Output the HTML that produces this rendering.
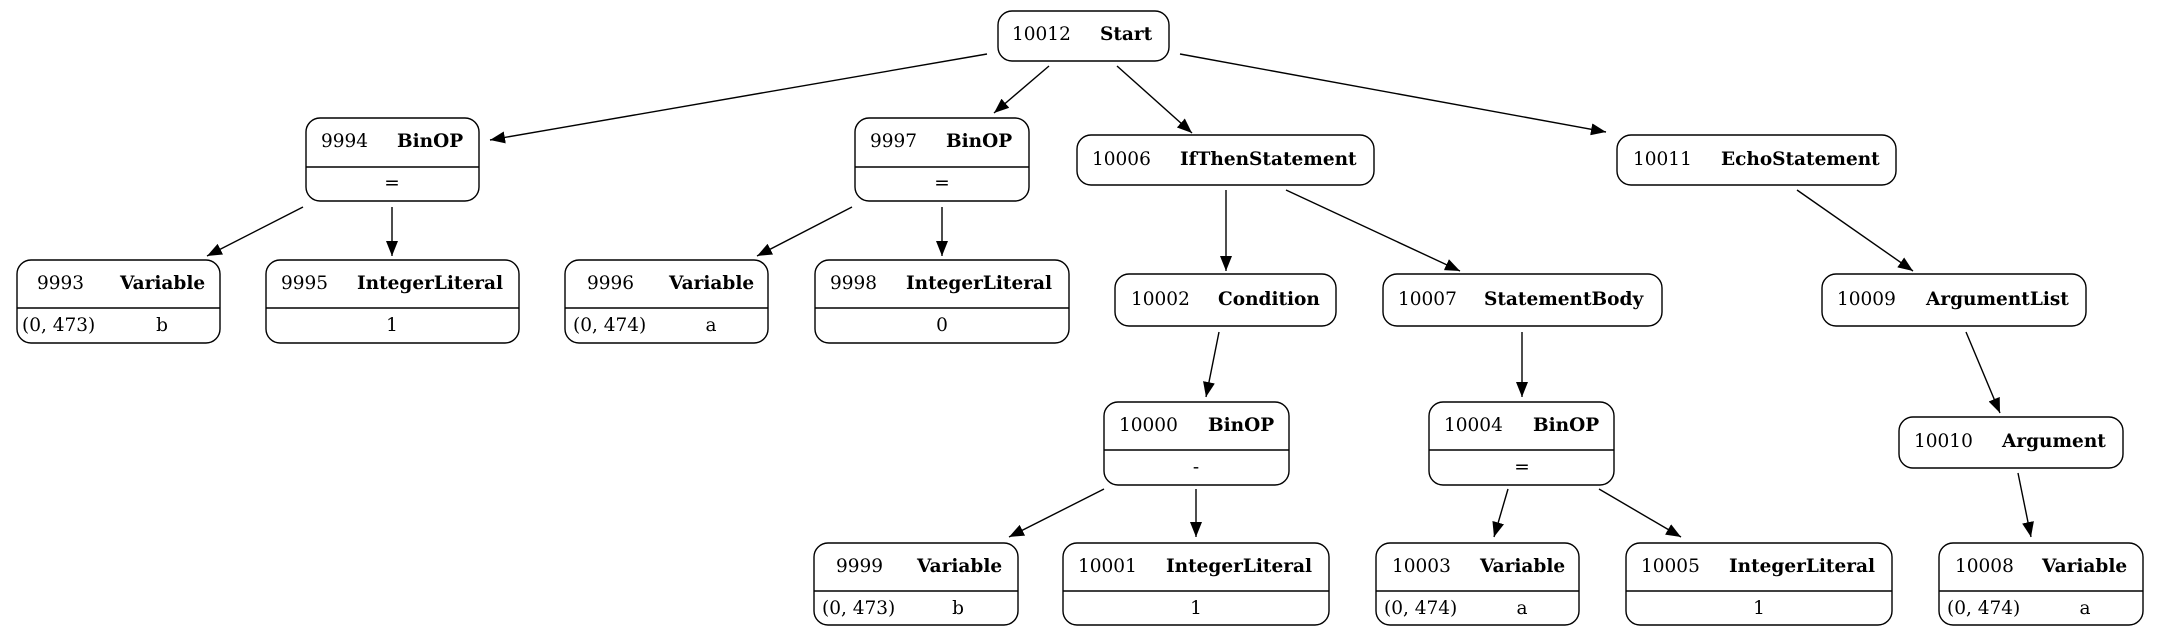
<!DOCTYPE html>
<html><head><meta charset="utf-8"><style>
html,body{margin:0;padding:0;background:#fff;}
svg{display:block;}
text{font-family:"DejaVu Serif","Liberation Serif",serif;font-size:18.5px;fill:#000;}
.b{font-weight:bold;}
rect{fill:#fff;stroke:#000;stroke-width:1.4;}
line{stroke:#000;stroke-width:1.4;}
.e{marker-end:url(#a);}
</style></head><body>
<svg width="2159" height="636" viewBox="0 0 2159 636" xmlns="http://www.w3.org/2000/svg">
<defs><marker id="a" markerUnits="userSpaceOnUse" markerWidth="16" markerHeight="12" refX="15" refY="6" orient="auto"><path d="M0,0 L15,6 L0,12 z" fill="#000"/></marker></defs>

<line class="e" x1="987" y1="54" x2="490" y2="140"/>
<line class="e" x1="1049" y1="66" x2="994" y2="113"/>
<line class="e" x1="1117" y1="66" x2="1192" y2="133"/>
<line class="e" x1="1180" y1="54" x2="1606" y2="132"/>
<line class="e" x1="303" y1="207" x2="207" y2="256"/>
<line class="e" x1="392" y1="207" x2="392" y2="256"/>
<line class="e" x1="852" y1="207" x2="757" y2="256"/>
<line class="e" x1="942" y1="207" x2="942" y2="256"/>
<line class="e" x1="1226" y1="190" x2="1226" y2="271"/>
<line class="e" x1="1286" y1="190" x2="1460" y2="271"/>
<line class="e" x1="1797" y1="190" x2="1913" y2="271"/>
<line class="e" x1="1219" y1="332" x2="1206" y2="397"/>
<line class="e" x1="1522" y1="332" x2="1522" y2="397"/>
<line class="e" x1="1966" y1="332" x2="2000" y2="413"/>
<line class="e" x1="1104" y1="489" x2="1009" y2="537"/>
<line class="e" x1="1196" y1="489" x2="1196" y2="537"/>
<line class="e" x1="1508" y1="489" x2="1494" y2="537"/>
<line class="e" x1="1599" y1="489" x2="1681" y2="537"/>
<line class="e" x1="2018" y1="473" x2="2031" y2="537"/>

<rect x="998" y="11" width="171" height="50" rx="14"/>
<text x="1012" y="40">10012</text><text class="b" x="1100" y="40">Start</text>

<rect x="1077" y="135" width="297" height="50" rx="14"/>
<text x="1092" y="165">10006</text><text class="b" x="1180" y="165">IfThenStatement</text>

<rect x="1617" y="135" width="279" height="50" rx="14"/>
<text x="1633" y="165">10011</text><text class="b" x="1721" y="165">EchoStatement</text>

<rect x="1115" y="274" width="221" height="52" rx="14"/>
<text x="1131" y="305">10002</text><text class="b" x="1218" y="305">Condition</text>

<rect x="1383" y="274" width="279" height="52" rx="14"/>
<text x="1398" y="305">10007</text><text class="b" x="1484" y="305">StatementBody</text>

<rect x="1822" y="274" width="264" height="52" rx="14"/>
<text x="1837" y="305">10009</text><text class="b" x="1926" y="305">ArgumentList</text>

<rect x="1899" y="417" width="224" height="51" rx="14"/>
<text x="1914" y="447">10010</text><text class="b" x="2002" y="447">Argument</text>

<rect x="306" y="118" width="173" height="83" rx="14"/><line x1="306" y1="167" x2="479" y2="167"/>
<text x="321" y="147">9994</text><text class="b" x="397" y="147">BinOP</text><text x="392" y="189" text-anchor="middle">=</text>

<rect x="855" y="118" width="174" height="83" rx="14"/><line x1="855" y1="167" x2="1029" y2="167"/>
<text x="870" y="147">9997</text><text class="b" x="946" y="147">BinOP</text><text x="942" y="189" text-anchor="middle">=</text>

<rect x="17" y="260" width="203" height="83" rx="14"/><line x1="17" y1="308" x2="220" y2="308"/>
<text x="37" y="289">9993</text><text class="b" x="120" y="289">Variable</text>
<text x="22" y="331">(0, 473)</text><text x="162" y="331" text-anchor="middle">b</text>

<rect x="266" y="260" width="253" height="83" rx="14"/><line x1="266" y1="308" x2="519" y2="308"/>
<text x="281" y="289">9995</text><text class="b" x="357" y="289">IntegerLiteral</text><text x="392" y="331" text-anchor="middle">1</text>

<rect x="565" y="260" width="203" height="83" rx="14"/><line x1="565" y1="308" x2="768" y2="308"/>
<text x="587" y="289">9996</text><text class="b" x="669" y="289">Variable</text>
<text x="573" y="331">(0, 474)</text><text x="711" y="331" text-anchor="middle">a</text>

<rect x="815" y="260" width="254" height="83" rx="14"/><line x1="815" y1="308" x2="1069" y2="308"/>
<text x="830" y="289">9998</text><text class="b" x="906" y="289">IntegerLiteral</text><text x="942" y="331" text-anchor="middle">0</text>

<rect x="1104" y="402" width="185" height="83" rx="14"/><line x1="1104" y1="450" x2="1289" y2="450"/>
<text x="1119" y="431">10000</text><text class="b" x="1208" y="431">BinOP</text><text x="1196" y="473" text-anchor="middle">-</text>

<rect x="1429" y="402" width="185" height="83" rx="14"/><line x1="1429" y1="450" x2="1614" y2="450"/>
<text x="1444" y="431">10004</text><text class="b" x="1533" y="431">BinOP</text><text x="1522" y="473" text-anchor="middle">=</text>

<rect x="814" y="543" width="204" height="82" rx="14"/><line x1="814" y1="591" x2="1018" y2="591"/>
<text x="836" y="572">9999</text><text class="b" x="917" y="572">Variable</text>
<text x="822" y="614">(0, 473)</text><text x="958" y="614" text-anchor="middle">b</text>

<rect x="1063" y="543" width="266" height="82" rx="14"/><line x1="1063" y1="591" x2="1329" y2="591"/>
<text x="1078" y="572">10001</text><text class="b" x="1166" y="572">IntegerLiteral</text><text x="1196" y="614" text-anchor="middle">1</text>

<rect x="1376" y="543" width="203" height="82" rx="14"/><line x1="1376" y1="591" x2="1579" y2="591"/>
<text x="1392" y="572">10003</text><text class="b" x="1480" y="572">Variable</text>
<text x="1384" y="614">(0, 474)</text><text x="1522" y="614" text-anchor="middle">a</text>

<rect x="1626" y="543" width="266" height="82" rx="14"/><line x1="1626" y1="591" x2="1892" y2="591"/>
<text x="1641" y="572">10005</text><text class="b" x="1729" y="572">IntegerLiteral</text><text x="1759" y="614" text-anchor="middle">1</text>

<rect x="1939" y="543" width="204" height="82" rx="14"/><line x1="1939" y1="591" x2="2143" y2="591"/>
<text x="1955" y="572">10008</text><text class="b" x="2042" y="572">Variable</text>
<text x="1947" y="614">(0, 474)</text><text x="2085" y="614" text-anchor="middle">a</text>
</svg>
</body></html>
